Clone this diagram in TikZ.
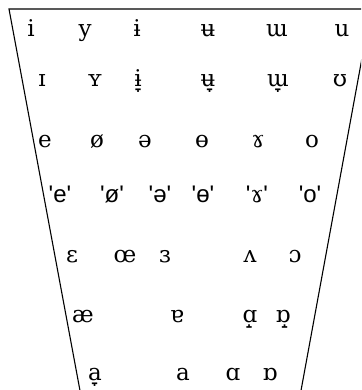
\documentclass[tikz,border=0pt]{standalone}
\usepackage{fontspec}
\usepackage{tikz}
\newfontfamily\ipafont{DejaVu Serif}
\newfontfamily\ipasans[Ligatures=TeXOff]{Liberation Sans}

\begin{document}
\begin{tikzpicture}[
        x=1pt, y=-1pt,
        vowel/.style={anchor=base, inner sep=0pt, font=\ipafont\fontsize{23}{26}\selectfont},
        marked/.style={anchor=base, inner sep=0pt, font=\ipasans\fontsize{24}{26}\selectfont},
        frame/.style={draw, line width=1.1pt}
    ]
        \useasboundingbox (0,0) rectangle (361,390);
        \clip (0,0) rectangle (361,390);

        % Frame
        \coordinate (tl) at (9,9);
        \coordinate (tr) at (371,9);
        \coordinate (br) at (300,396);
        \coordinate (bl) at (81,396);
        \draw[frame] (bl) -- (tl) -- (tr) -- (br);

        % Close
        \node[vowel] (close1) at (31,37) {i};
        \node[vowel] (close2) at (85,37) {y};
        \node[vowel] (close3) at (137,37) {ɨ};
        \node[vowel] (close4) at (208,37) {ʉ};
        \node[vowel] (close5) at (277,37) {ɯ};
        \node[vowel] (close6) at (342,37) {u};

        % Near-close
        \node[vowel] (near1) at (42,87) {ɪ};
        \node[vowel] (near2) at (95,87) {ʏ};
        \node[vowel] (near3) at (138,87) {ɨ̞};
        \node[vowel] (near4) at (208,87) {ʉ̞};
        \node[vowel] (near5) at (278,87) {ɯ̞};
        \node[vowel] (near6) at (340,87) {ʊ};

        % Close-mid
        \node[vowel] (cmid1) at (45,147) {e};
        \node[vowel] (cmid2) at (97,147) {ø};
        \node[vowel] (cmid3) at (145,147) {ə};
        \node[vowel] (cmid4) at (202,147) {ɵ};
        \node[vowel] (cmid5) at (258,147) {ɤ};
        \node[vowel] (cmid6) at (312,147) {o};

        % Mid (quoted)
        \node[marked] (mid1) at (60,202) {'e'};
        \node[marked] (mid2) at (112,202) {'ø'};
        \node[marked] (mid3) at (160,202) {'ə'};
        \node[marked] (mid4) at (203,202) {'ɵ'};
        \node[marked] (mid5) at (257,202) {'{\ipafont\fontsize{23}{26}\selectfont ɤ}'};
        \node[marked] (mid6) at (310,202) {'o'};

        % Open-mid
        \node[vowel] (omid1) at (72,262) {ɛ};
        \node[vowel] (omid2) at (125,262) {œ};
        \node[vowel] (omid3) at (165,262) {ɜ};
        \node[vowel] (omid4) at (250,262) {ʌ};
        \node[vowel] (omid5) at (295,262) {ɔ};

        % Near-open
        \node[vowel] (nopen1) at (83,322) {æ};
        \node[vowel] (nopen2) at (177,322) {ɐ};
        \node[vowel] (nopen3) at (250,322) {ɑ̝};
        \node[vowel] (nopen4) at (283,322) {ɒ̝};

        % Open
        \node[vowel] (open1) at (95,380) {a̞};
        \node[vowel] (open2) at (183,380) {a};
        \node[vowel] (open3) at (233,380) {ɑ};
        \node[vowel] (open4) at (270,380) {ɒ};
    \end{tikzpicture}
\end{document}
